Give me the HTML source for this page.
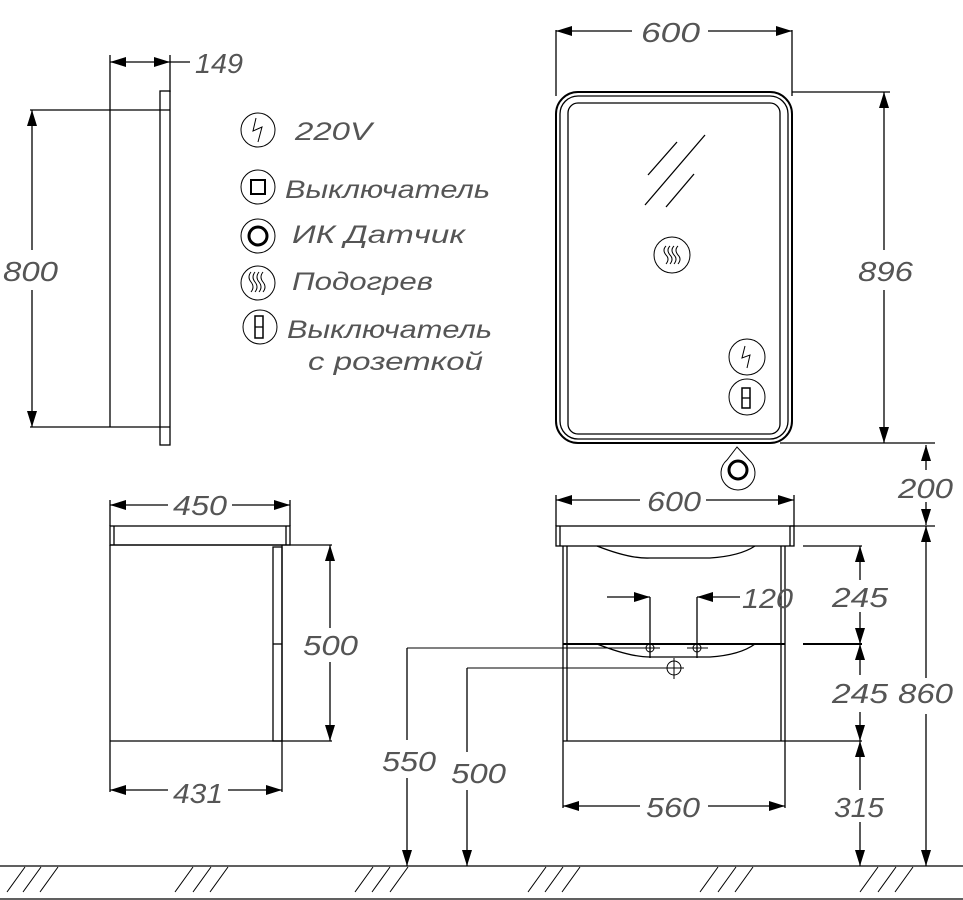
<!DOCTYPE html>
<html><head><meta charset="utf-8"><style>
html,body{margin:0;padding:0;background:#fff;}
svg{display:block;}
text{font-family:"Liberation Sans",sans-serif;font-style:italic;fill:#555;font-size:28px;}
.l{font-size:25px;}
</style></head><body>
<svg width="963" height="900" viewBox="0 0 963 900" xmlns="http://www.w3.org/2000/svg">
<defs>
<marker id="a" viewBox="0 0 16 10" refX="16" refY="5" markerWidth="16" markerHeight="10" markerUnits="userSpaceOnUse" orient="auto-start-reverse">
<path d="M0,0 L16,5 L0,10 z" fill="#000"/></marker>
</defs>
<g stroke="#000" stroke-width="1.3" fill="none">
<line x1="110" y1="55" x2="110" y2="427"/>
<line x1="170" y1="55" x2="170" y2="92"/>
<line x1="110" y1="62" x2="170" y2="62" marker-start="url(#a)" marker-end="url(#a)"/>
<line x1="170" y1="62" x2="190" y2="62"/>
<rect x="160" y="91" width="10" height="354"/>
<line x1="30" y1="110" x2="170" y2="110"/>
<line x1="30" y1="427" x2="170" y2="427"/>
<line x1="32" y1="110" x2="32" y2="250" marker-start="url(#a)"/>
<line x1="32" y1="290" x2="32" y2="427" marker-end="url(#a)"/>
<circle cx="258" cy="130" r="17" stroke-width="1"/>
<path d="M256,118 L253,131 L262,127 L258,142" stroke-width="1"/>
<circle cx="258" cy="187" r="17" stroke-width="1"/>
<rect x="251" y="180" width="14" height="14" stroke-width="2"/>
<circle cx="258" cy="236" r="17" stroke-width="1"/>
<circle cx="258" cy="236" r="9" stroke-width="3"/>
<circle cx="258" cy="283" r="17" stroke-width="1"/>
<path d="M251,272 q-4,5 0,10 q4,5 0,10 M255,272 q-4,5 0,10 q4,5 0,10 M259,272 q-4,5 0,10 q4,5 0,10 M263,272 q-4,5 0,10 q4,5 0,10" stroke-width="1"/>
<circle cx="260" cy="327" r="17" stroke-width="1"/>
<rect x="255" y="316" width="8" height="22" stroke-width="1.5"/>
<line x1="255" y1="327" x2="263" y2="327"/>
<line x1="556" y1="30" x2="556" y2="96"/>
<line x1="792" y1="30" x2="792" y2="96"/>
<line x1="556" y1="31" x2="632" y2="31" marker-start="url(#a)"/>
<line x1="708" y1="31" x2="792" y2="31" marker-end="url(#a)"/>
<rect x="556" y="92" width="236" height="351" rx="22" stroke-width="2"/>
<rect x="560" y="96" width="228" height="343" rx="18"/>
<rect x="568" y="103" width="212" height="331" rx="10"/>
<line x1="648" y1="175" x2="677" y2="142"/>
<line x1="645" y1="205" x2="705" y2="135"/>
<line x1="666" y1="207" x2="694" y2="174"/>
<circle cx="672" cy="255" r="18" stroke-width="1"/>
<path d="M666,246 q-4,4 0,9 q4,4 0,9 M670,246 q-4,4 0,9 q4,4 0,9 M674,246 q-4,4 0,9 q4,4 0,9 M678,246 q-4,4 0,9 q4,4 0,9" stroke-width="1"/>
<circle cx="747" cy="357" r="18" stroke-width="1"/>
<path d="M745,346 L742,358 L750,355 L747,368" stroke-width="1"/>
<circle cx="747" cy="397" r="18" stroke-width="1"/>
<rect x="742" y="388" width="8" height="20" stroke-width="1.5"/>
<line x1="742" y1="398" x2="750" y2="398"/>
<path d="M737,447 L727,460 A17,17 0 1 0 749,460 Z" stroke-width="1"/>
<circle cx="738" cy="470" r="9" stroke-width="3"/>
<line x1="792" y1="92" x2="890" y2="92"/>
<line x1="884" y1="92" x2="884" y2="250" marker-start="url(#a)"/>
<line x1="884" y1="290" x2="884" y2="443" marker-end="url(#a)"/>
<line x1="780" y1="443" x2="935" y2="443"/>
<line x1="926" y1="445" x2="926" y2="470" marker-start="url(#a)"/>
<line x1="926" y1="502" x2="926" y2="525" marker-end="url(#a)"/>
<line x1="790" y1="526" x2="935" y2="526"/>
<line x1="556" y1="495" x2="556" y2="526"/>
<line x1="794" y1="495" x2="794" y2="526"/>
<line x1="556" y1="500" x2="640" y2="500" marker-start="url(#a)"/>
<line x1="706" y1="500" x2="794" y2="500" marker-end="url(#a)"/>
<rect x="556" y="526" width="238" height="20"/>
<line x1="560" y1="526" x2="560" y2="546"/>
<line x1="790" y1="526" x2="790" y2="546"/>
<line x1="563" y1="546" x2="563" y2="808"/>
<line x1="785" y1="546" x2="785" y2="808"/>
<line x1="567" y1="546" x2="567" y2="741"/>
<line x1="781" y1="546" x2="781" y2="741"/>
<line x1="563" y1="644" x2="785" y2="644" stroke-width="2"/>
<line x1="563" y1="741" x2="785" y2="741"/>
<path d="M597,546 Q630,559 650,558 L710,558 Q740,556 755,546"/>
<path d="M597,644 Q630,657 650,657 L710,657 Q740,655 755,644"/>
<line x1="607" y1="597" x2="650" y2="597" marker-end="url(#a)"/>
<line x1="740" y1="597" x2="697" y2="597" marker-end="url(#a)"/>
<line x1="650" y1="597" x2="650" y2="658"/>
<line x1="697" y1="597" x2="697" y2="658"/>
<circle cx="650" cy="648" r="4" stroke-width="1"/>
<circle cx="697" cy="648" r="4" stroke-width="1"/>
<line x1="407" y1="648" x2="660" y2="648" stroke-width="1"/>
<line x1="687" y1="648" x2="708" y2="648" stroke-width="1"/>
<circle cx="674" cy="668" r="7" stroke-width="1"/>
<line x1="674" y1="658" x2="674" y2="679" stroke-width="1"/>
<line x1="467" y1="668" x2="684" y2="668" stroke-width="1"/>
<line x1="407" y1="648" x2="407" y2="740"/>
<line x1="407" y1="778" x2="407" y2="866" marker-end="url(#a)"/>
<line x1="467" y1="668" x2="467" y2="752"/>
<line x1="467" y1="790" x2="467" y2="866" marker-end="url(#a)"/>
<line x1="563" y1="806" x2="640" y2="806" marker-start="url(#a)"/>
<line x1="708" y1="806" x2="785" y2="806" marker-end="url(#a)"/>
<line x1="803" y1="546" x2="862" y2="546"/>
<line x1="803" y1="644" x2="862" y2="644" stroke-width="2"/>
<line x1="785" y1="741" x2="862" y2="741"/>
<line x1="860" y1="546" x2="860" y2="580" marker-start="url(#a)"/>
<line x1="860" y1="612" x2="860" y2="644" marker-end="url(#a)"/>
<line x1="860" y1="644" x2="860" y2="675" marker-start="url(#a)"/>
<line x1="860" y1="712" x2="860" y2="741" marker-end="url(#a)"/>
<line x1="860" y1="741" x2="860" y2="790" marker-start="url(#a)"/>
<line x1="860" y1="822" x2="860" y2="866" marker-end="url(#a)"/>
<line x1="926" y1="526" x2="926" y2="678" marker-start="url(#a)"/>
<line x1="926" y1="714" x2="926" y2="866" marker-end="url(#a)"/>
<line x1="110" y1="500" x2="110" y2="526"/>
<line x1="290" y1="500" x2="290" y2="526"/>
<line x1="110" y1="505" x2="168" y2="505" marker-start="url(#a)"/>
<line x1="232" y1="505" x2="290" y2="505" marker-end="url(#a)"/>
<rect x="110" y="526" width="180" height="19"/>
<line x1="114" y1="526" x2="114" y2="545"/>
<line x1="286" y1="526" x2="286" y2="545"/>
<line x1="110" y1="545" x2="110" y2="792"/>
<line x1="282" y1="545" x2="282" y2="792"/>
<line x1="110" y1="545" x2="332" y2="545"/>
<line x1="110" y1="741" x2="332" y2="741"/>
<rect x="273" y="547" width="9" height="194"/>
<line x1="273" y1="644" x2="282" y2="644"/>
<line x1="330" y1="545" x2="330" y2="628" marker-start="url(#a)"/>
<line x1="330" y1="662" x2="330" y2="741" marker-end="url(#a)"/>
<line x1="110" y1="790" x2="168" y2="790" marker-start="url(#a)"/>
<line x1="228" y1="790" x2="282" y2="790" marker-end="url(#a)"/>
<line x1="0" y1="866" x2="963" y2="866"/>
<line x1="0" y1="899" x2="963" y2="899"/>
<path d="M7,892 L25,867 M23,892 L41,867 M40,892 L58,867
M175,892 L193,867 M193,892 L211,867 M210,892 L228,867
M355,892 L373,867 M372,892 L390,867 M390,892 L408,867
M528,892 L546,867 M545,892 L563,867 M562,892 L580,867
M700,892 L718,867 M718,892 L736,867 M735,892 L753,867
M860,892 L878,867 M878,892 L896,867 M895,892 L913,867" stroke-width="1"/>
</g>
<text x="195" y="73" textLength="48" lengthAdjust="spacingAndGlyphs">149</text>
<text x="3" y="281" textLength="55" lengthAdjust="spacingAndGlyphs">800</text>
<text class="l" x="295" y="140" textLength="77" lengthAdjust="spacingAndGlyphs">220V</text>
<text class="l" x="285" y="198" textLength="205" lengthAdjust="spacingAndGlyphs">Выключатель</text>
<text class="l" x="292" y="243" textLength="173" lengthAdjust="spacingAndGlyphs">ИК Датчик</text>
<text class="l" x="292" y="290" textLength="141" lengthAdjust="spacingAndGlyphs">Подогрев</text>
<text class="l" x="287" y="338" textLength="205" lengthAdjust="spacingAndGlyphs">Выключатель</text>
<text class="l" x="308" y="370" textLength="175" lengthAdjust="spacingAndGlyphs">с розеткой</text>
<text x="641" y="42" textLength="59" lengthAdjust="spacingAndGlyphs">600</text>
<text x="858" y="281" textLength="55" lengthAdjust="spacingAndGlyphs">896</text>
<text x="898" y="498" textLength="55" lengthAdjust="spacingAndGlyphs">200</text>
<text x="647" y="511" textLength="54" lengthAdjust="spacingAndGlyphs">600</text>
<text x="742" y="608" textLength="51" lengthAdjust="spacingAndGlyphs">120</text>
<text x="832" y="607" textLength="56" lengthAdjust="spacingAndGlyphs">245</text>
<text x="832" y="703" textLength="56" lengthAdjust="spacingAndGlyphs">245</text>
<text x="898" y="703" textLength="55" lengthAdjust="spacingAndGlyphs">860</text>
<text x="834" y="817" textLength="50" lengthAdjust="spacingAndGlyphs">315</text>
<text x="646" y="817" textLength="54" lengthAdjust="spacingAndGlyphs">560</text>
<text x="382" y="771" textLength="54" lengthAdjust="spacingAndGlyphs">550</text>
<text x="451" y="783" textLength="55" lengthAdjust="spacingAndGlyphs">500</text>
<text x="303" y="655" textLength="55" lengthAdjust="spacingAndGlyphs">500</text>
<text x="173" y="803" textLength="50" lengthAdjust="spacingAndGlyphs">431</text>
<text x="173" y="515" textLength="54" lengthAdjust="spacingAndGlyphs">450</text>
</svg>
</body></html>
